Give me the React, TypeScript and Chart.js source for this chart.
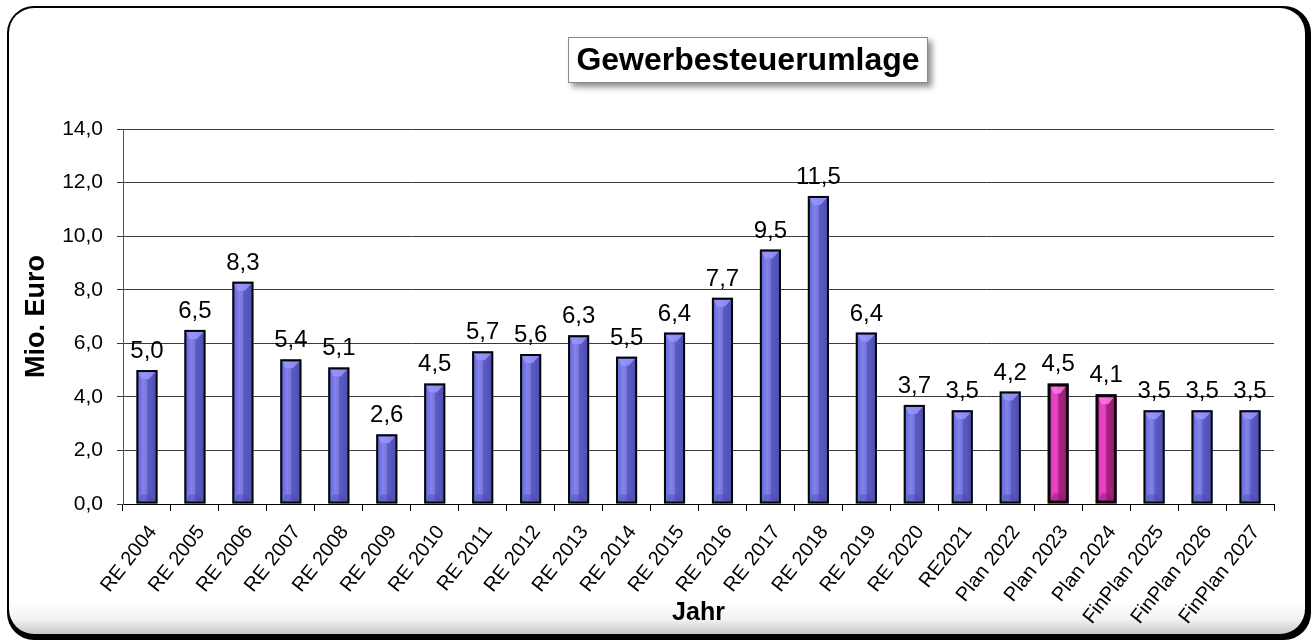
import React, { useEffect, useRef } from 'react';
import { Chart, registerables } from 'chart.js';

Chart.register(...registerables);

const categories = [
  'RE 2004', 'RE 2005', 'RE 2006', 'RE 2007', 'RE 2008', 'RE 2009', 'RE 2010', 'RE 2011',
  'RE 2012', 'RE 2013', 'RE 2014', 'RE 2015', 'RE 2016', 'RE 2017', 'RE 2018', 'RE 2019',
  'RE 2020', 'RE2021', 'Plan 2022', 'Plan 2023', 'Plan 2024', 'FinPlan 2025', 'FinPlan 2026', 'FinPlan 2027',
];
const values = [5.0, 6.5, 8.3, 5.4, 5.1, 2.6, 4.5, 5.7, 5.6, 6.3, 5.5, 6.4, 7.7, 9.5, 11.5, 6.4, 3.7, 3.5, 4.2, 4.5, 4.1, 3.5, 3.5, 3.5];
const highlighted = ['Plan 2023', 'Plan 2024'];
const yMin = 0;
const yMax = 14;
const yStep = 2;
const chartTitle = 'Gewerbesteuerumlage';
const yTitle = 'Mio. Euro';
const xTitle = 'Jahr';

const FONT = '"Liberation Sans", Arial, Helvetica, sans-serif';
const fmt = (v: number) => v.toFixed(1).replace('.', ',');
const isHl = (i: number) => highlighted.includes(categories[i]);

const framePlugin = {
  id: 'frame',
  beforeDraw(chart: any) {
    const ctx = chart.ctx as CanvasRenderingContext2D;
    const rr = (x: number, y: number, w: number, h: number, r: number) => {
      ctx.beginPath();
      ctx.moveTo(x + r, y);
      ctx.lineTo(x + w - r, y);
      ctx.arcTo(x + w, y, x + w, y + r, r);
      ctx.lineTo(x + w, y + h - r);
      ctx.arcTo(x + w, y + h, x + w - r, y + h, r);
      ctx.lineTo(x + r, y + h);
      ctx.arcTo(x, y + h, x, y + h - r, r);
      ctx.lineTo(x, y + r);
      ctx.arcTo(x, y, x + r, y, r);
      ctx.closePath();
    };
    ctx.save();
    ctx.fillStyle = '#ffffff';
    ctx.fillRect(0, 0, chart.width, chart.height);
    rr(7, 6, 1304, 634, 27);
    ctx.fillStyle = '#000000';
    ctx.fill();
    rr(9, 8, 1296, 626, 25);
    const g = ctx.createLinearGradient(0, 600, 0, 634);
    g.addColorStop(0, '#ffffff');
    g.addColorStop(0.55, '#f4f4f4');
    g.addColorStop(1, '#c8c8c8');
    ctx.fillStyle = g;
    ctx.fill();
    ctx.restore();
  },
};

const titleBoxPlugin = {
  id: 'titleBox',
  afterDraw(chart: any) {
    const ctx = chart.ctx as CanvasRenderingContext2D;
    ctx.save();
    const x = 568, y = 37, w = 360, h = 46;
    ctx.shadowColor = 'rgba(0,0,0,0.45)';
    ctx.shadowBlur = 6;
    ctx.shadowOffsetX = 4;
    ctx.shadowOffsetY = 4;
    ctx.fillStyle = '#ffffff';
    ctx.fillRect(x, y, w, h);
    ctx.shadowColor = 'transparent';
    ctx.strokeStyle = '#8a8a8a';
    ctx.lineWidth = 1;
    ctx.strokeRect(x + 0.5, y + 0.5, w - 1, h - 1);
    ctx.fillStyle = '#000000';
    ctx.font = `bold 32px ${FONT}`;
    ctx.textAlign = 'center';
    ctx.textBaseline = 'middle';
    ctx.fillText(chartTitle, x + w / 2, y + h / 2 + 1);
    ctx.restore();
  },
};

const barStylePlugin = {
  id: 'barStyle',
  afterDatasetsDraw(chart: any) {
    const ctx = chart.ctx as CanvasRenderingContext2D;
    const meta = chart.getDatasetMeta(0);
    ctx.save();
    meta.data.forEach((bar: any, i: number) => {
      const { x, y, base, width } = bar.getProps(['x', 'y', 'base', 'width'], true);
      const hl = isHl(i);
      const bw = hl ? 3 : 2;
      const l = x - width / 2;
      const r = x + width / 2;
      const t = Math.min(y, base);
      const b = Math.max(y, base);
      const il = l + bw, ir = r - bw, it = t + bw, ib = b - bw;
      const g = ctx.createLinearGradient(il, 0, ir, 0);
      if (hl) {
        g.addColorStop(0, '#d93ab8');
        g.addColorStop(0.25, '#ea44c6');
        g.addColorStop(0.5, '#e03cbf');
        g.addColorStop(0.53, '#a8237f');
        g.addColorStop(1, '#9a1f78');
      } else {
        g.addColorStop(0, '#6a6ad6');
        g.addColorStop(0.3, '#8282ec');
        g.addColorStop(0.5, '#7474df');
        g.addColorStop(0.55, '#5b5bc4');
        g.addColorStop(1, '#5050b2');
      }
      ctx.fillStyle = g;
      ctx.fillRect(il, it, ir - il, ib - it);
      const bev = Math.min(7, (ib - it) / 2);
      ctx.beginPath();
      ctx.moveTo(il, it);
      ctx.lineTo(ir, it);
      ctx.lineTo(x + 2, it + bev);
      ctx.lineTo(il + 3, it + bev);
      ctx.closePath();
      ctx.fillStyle = hl ? 'rgba(255,120,225,0.85)' : 'rgba(150,150,250,0.85)';
      ctx.fill();
      ctx.beginPath();
      ctx.moveTo(il, ib);
      ctx.lineTo(ir, ib);
      ctx.lineTo(x + 2, ib - bev);
      ctx.lineTo(il + 3, ib - bev);
      ctx.closePath();
      ctx.fillStyle = hl ? 'rgba(150,20,110,0.5)' : 'rgba(70,70,170,0.45)';
      ctx.fill();
      ctx.strokeStyle = '#050505';
      ctx.lineWidth = bw;
      ctx.strokeRect(l + bw / 2, t + bw / 2, width - bw, b - t - bw);
    });
    ctx.fillStyle = '#000000';
    ctx.font = `24px ${FONT}`;
    ctx.textAlign = 'center';
    ctx.textBaseline = 'alphabetic';
    meta.data.forEach((bar: any, i: number) => {
      const { x, y } = bar.getProps(['x', 'y'], true);
      ctx.fillText(fmt(values[i]), x, y - 12);
    });
    ctx.restore();
  },
};

export default function App() {
  const ref = useRef<HTMLCanvasElement | null>(null);
  useEffect(() => {
    if (!ref.current) return;
    const chart = new Chart(ref.current, {
      type: 'bar',
      data: {
        labels: categories,
        datasets: [
          {
            data: values,
            backgroundColor: categories.map((c) => (highlighted.includes(c) ? '#e03cbf' : '#6c6cd8')),
            borderWidth: 0,
            barPercentage: 0.44,
            categoryPercentage: 1,
          },
        ],
      },
      options: {
        responsive: false,
        animation: false,
        events: [],
        layout: { padding: { left: 12, right: 39, top: 129, bottom: 0 } },
        plugins: {
          legend: { display: false },
          title: { display: false },
          tooltip: { enabled: false },
        },
        scales: {
          x: {
            offset: true,
            grid: {
              display: true,
              offset: true,
              drawOnChartArea: false,
              drawTicks: true,
              tickLength: 7,
              color: '#000000',
            },
            border: { display: true, color: '#000000', width: 1 },
            ticks: {
              color: '#000000',
              font: { family: FONT, size: 20 },
              maxRotation: 52,
              minRotation: 52,
              autoSkip: false,
              padding: 10,
              labelOffset: 6,
            },
            title: {
              display: true,
              text: xTitle,
              color: '#000000',
              font: { family: FONT, size: 25, weight: 'bold' },
              padding: { top: 0, bottom: 13 },
            },
            afterFit: (s: any) => {
              s.height = 137;
            },
          },
          y: {
            min: yMin,
            max: yMax,
            ticks: {
              stepSize: yStep,
              color: '#000000',
              font: { family: FONT, size: 21 },
              padding: 14,
              callback: (v: any) => fmt(Number(v)),
            },
            grid: {
              color: '#3a3a3a',
              lineWidth: 1,
              tickLength: 6,
              drawTicks: true,
            },
            border: { display: true, color: '#555555', width: 1 },
            title: {
              display: true,
              text: yTitle,
              color: '#000000',
              font: { family: FONT, size: 27, weight: 'bold' },
              padding: { top: 8, bottom: 0 },
            },
            afterFit: (s: any) => {
              s.width = 111;
            },
          },
        },
      },
      plugins: [framePlugin, barStylePlugin, titleBoxPlugin],
    });
    return () => chart.destroy();
  }, []);
  return (
    <div style={{ position: 'absolute', left: 0, top: 0, width: 1313, height: 641 }}>
      <canvas ref={ref} width={1313} height={641} style={{ width: 1313, height: 641, display: 'block' }} />
    </div>
  );
}
